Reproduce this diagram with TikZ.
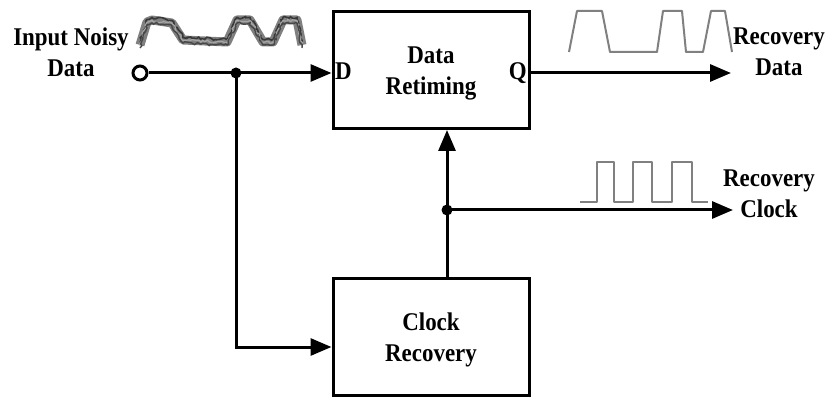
\documentclass[tikz,border=0pt]{standalone}
\usepackage{fontspec}
\setmainfont{Liberation Serif}
\newfontfamily\lblfont[FakeStretch=0.9]{Liberation Serif}
\usetikzlibrary{arrows.meta,decorations.pathmorphing}
\begin{document}
\begin{tikzpicture}[x=1pt,y=-1pt,
  blk/.style={draw,line width=3pt,inner sep=0pt},
  lbl/.style={font=\lblfont\fontsize{25.5}{31.5}\selectfont\bfseries,align=center,inner sep=0pt},
  wire/.style={line width=3pt},
  arr/.style={wire,-{Triangle[length=21pt,width=17pt]}},
  jdot/.style={circle,fill=black,inner sep=0pt,minimum size=11pt},
  wave/.style={draw=black!50,line width=2pt,line join=round},
  noise/.style={decorate,decoration={random steps,segment length=2.5pt,amplitude=1.4pt}}]
\useasboundingbox (0,0) rectangle (828,398);
% blocks
\node[blk,minimum width=196pt,minimum height=117pt] (dr) at (431,70) {};
\node[blk,minimum width=196pt,minimum height=116pt] (cr) at (431,337) {};
\node[lbl,anchor=base] (drl) at (431,95) {Data\\Retiming};
\node[lbl,anchor=base] (crl) at (431,362) {Clock\\Recovery};
\node[lbl,anchor=base west] (dl) at (335,80) {D};
\node[lbl,anchor=base east] (ql) at (527,80) {Q};
% labels
\node[lbl,anchor=base] (inl) at (71,77) {Input Noisy\\Data};
\node[lbl,anchor=base] (rdl) at (779,76) {Recovery\\Data};
\node[lbl,anchor=base] (rcl) at (769,218) {Recovery\\Clock};
% input terminal and junctions
\node[circle,draw,line width=3pt,fill=white,minimum size=14pt,inner sep=0pt] (in) at (140,73) {};
\coordinate (j1) at (236,73);
\coordinate (j2) at (447,210);
\coordinate (qo) at (731,73);
\coordinate (co) at (733,210);
\draw[arr] (in.east) -- (in -| dr.west);
\draw[arr] (j1) |- ([yshift=-10pt]cr.west);
\draw[arr] (in -| dr.east) -- (qo);
\draw[arr] (cr.north -| j2) -- (dr.south -| j2);
\draw[arr] (j2) -- (co);
\node[jdot] (d1) at (j1) {};
\node[jdot] (d2) at (j2) {};
% noisy input waveform
\def\noisy{(140,45) -- (147,22) -- (152,20) -- (172,23) -- (183,40) -- (227,42) -- (237,20) -- (250,20) -- (263,42) -- (273,42) -- (283,20) -- (297,20) -- (302,45)}
\draw[line width=9pt,black!50,line join=round] \noisy;
\begin{scope}[yshift=2.5pt]
\draw[line width=1.6pt,black!78,noise] \noisy;
\end{scope}
\begin{scope}[yshift=-0.5pt]
\draw[line width=1.2pt,black!35,noise] \noisy;
\end{scope}
\begin{scope}[yshift=-3pt]
\draw[line width=1.4pt,black!72,noise] \noisy;
\end{scope}
% recovered data waveform
\draw[wave] (569,52) -- (577,11) -- (602,11) -- (610,52) -- (657,52) -- (663,11) -- (682,11) -- (686,52) -- (703,52) -- (711,11) -- (725,11) -- (732,52);
% recovered clock waveform
\draw[wave] (580,202) -- (597,202) -- (597,162) -- (614,162) -- (614,202) -- (633,202) -- (633,162) -- (652,162) -- (652,202) -- (672,202) -- (672,162) -- (692,162) -- (692,202) -- (708,202);
\end{tikzpicture}
\end{document}
